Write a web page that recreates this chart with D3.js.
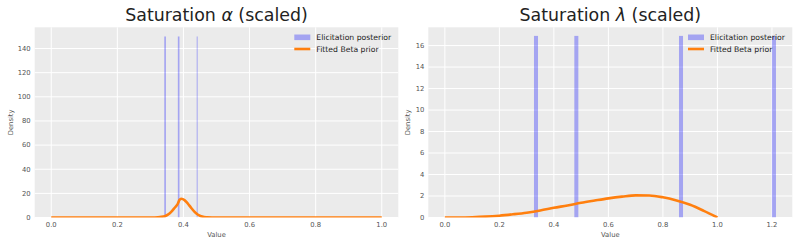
<!DOCTYPE html>
<html>
<head>
<meta charset="utf-8">
<script src="https://cdn.jsdelivr.net/npm/d3@7"></script>
<style>
  body { margin: 0; background: #fff; }
  text { font-family: "DejaVu Sans", sans-serif; }
</style>
</head>
<body>
<svg id="chart" width="800" height="246"></svg>
<script>
// saturation alpha panel
const alphaBarX = [0.342, 0.383, 0.440];
const alphaBarW = [0.005, 0.005, 0.003];
const alphaBarH = [150, 150, 150];
const alphaCurveX = [0, 0.1, 0.2, 0.3, 0.313, 0.323, 0.333, 0.343, 0.353, 0.363, 0.373, 0.383, 0.388, 0.393, 0.398, 0.403, 0.413, 0.423, 0.433, 0.443, 0.453, 0.463, 0.473, 0.5, 0.6, 0.8, 1.0];
const alphaCurveY = [0, 0, 0, 0, 0.05, 0.2, 0.5, 1.1, 2.4, 4.7, 7.9, 11.4, 14.6, 15.5, 15.2, 14.4, 11.6, 8.1, 4.9, 2.5, 1.1, 0.45, 0.15, 0, 0, 0, 0];
const alphaXTicks = [0, 0.2, 0.4, 0.6, 0.8, 1.0];
const alphaYTicks = [0, 20, 40, 60, 80, 100, 120, 140];

// saturation lambda panel
const lambdaBarX = [0.327, 0.475, 0.859, 1.200];
const lambdaBarW = [0.0148, 0.0148, 0.0148, 0.0148];
const lambdaBarH = [16.9, 16.9, 16.9, 16.9];
const lambdaCurveX = [0, 0.05, 0.1, 0.15, 0.2, 0.25, 0.3, 0.35, 0.4, 0.45, 0.5, 0.55, 0.6, 0.65, 0.7, 0.75, 0.8, 0.85, 0.9, 0.95, 1.0];
const lambdaCurveY = [0, 0.005, 0.03, 0.08, 0.17, 0.3, 0.45, 0.65, 0.9, 1.12, 1.37, 1.58, 1.78, 1.94, 2.06, 2.05, 1.88, 1.58, 1.18, 0.62, 0];
const lambdaXTicks = [0, 0.2, 0.4, 0.6, 0.8, 1.0, 1.2];
const lambdaYTicks = [0, 2, 4, 6, 8, 10, 12, 14, 16];

const legendLabels = ["Elicitation posterior", "Fitted Beta prior"];

const svg = d3.select("#chart");

function drawPanel(opt){
    const g = svg.append("g");
    const x = d3.scaleLinear().domain(opt.xdom).range([opt.left, opt.right]);
    const y = d3.scaleLinear().domain(opt.ydom).range([opt.bottom, opt.top]);

    // background
    g.append("rect")
        .attr("x", opt.left).attr("y", opt.top)
        .attr("width", opt.right - opt.left)
        .attr("height", opt.bottom - opt.top)
        .attr("fill", "#ebebeb");

    // grid
    g.selectAll(".gx").data(opt.xticks).enter().append("line")
        .attr("x1", d => x(d)).attr("x2", d => x(d))
        .attr("y1", opt.top).attr("y2", opt.bottom)
        .attr("stroke", "#fff").attr("stroke-width", 1);
    g.selectAll(".gy").data(opt.yticks).enter().append("line")
        .attr("x1", opt.left).attr("x2", opt.right)
        .attr("y1", d => y(d)).attr("y2", d => y(d))
        .attr("stroke", "#fff").attr("stroke-width", 1);

    const clipId = "clip" + opt.id;
    g.append("clipPath").attr("id", clipId).append("rect")
        .attr("x", opt.left).attr("y", opt.top)
        .attr("width", opt.right - opt.left)
        .attr("height", opt.bottom - opt.top);
    const plot = g.append("g").attr("clip-path", "url(#" + clipId + ")");

    // histogram bars
    plot.selectAll(".bar").data(opt.barX).enter().append("rect")
        .attr("x", d => x(d))
        .attr("width", (d, i) => x(d + opt.barW[i]) - x(d))
        .attr("y", (d, i) => y(opt.barH[i]))
        .attr("height", (d, i) => y(0) - y(opt.barH[i]))
        .attr("fill", "blue").attr("fill-opacity", 0.3);

    // fitted prior
    const pts = opt.cx.map((v, i) => [v, opt.cy[i]]);
    plot.append("path")
        .attr("d", d3.line().x(d => x(d[0])).y(d => y(d[1])).curve(d3.curveMonotoneX)(pts))
        .attr("fill", "none").attr("stroke", "#ff7f0e").attr("stroke-width", 2.6);

    // tick labels
    g.selectAll(".tx").data(opt.xticks).enter().append("text")
        .attr("x", d => x(d)).attr("y", opt.bottom + 9)
        .attr("text-anchor", "middle").attr("font-size", "6.8px").attr("fill", "#555")
        .text(d => d3.format(".1f")(d));
    g.selectAll(".ty").data(opt.yticks).enter().append("text")
        .attr("x", opt.left - 4).attr("y", d => y(d) + 2.4)
        .attr("text-anchor", "end").attr("font-size", "6.8px").attr("fill", "#555")
        .text(d => d);

    // axis labels
    g.append("text")
        .attr("x", (opt.left + opt.right) / 2).attr("y", opt.bottom + 19)
        .attr("text-anchor", "middle").attr("font-size", "6.8px").attr("fill", "#555")
        .text("Value");
    g.append("text")
        .attr("transform", "translate(" + opt.ylabelX + "," + (opt.top + opt.bottom) / 2 + ") rotate(-90)")
        .attr("text-anchor", "middle").attr("font-size", "6.8px").attr("fill", "#555")
        .text("Density");

    // title
    const t = g.append("text")
        .attr("x", (opt.left + opt.right) / 2).attr("y", 21)
        .attr("text-anchor", "middle").attr("font-size", "17.4px").attr("fill", "#222");
    t.append("tspan").text("Saturation ");
    t.append("tspan").attr("font-style", "italic").text(opt.greek);
    t.append("tspan").text(" (scaled)");

    // legend
    const lx = opt.legendX;
    g.append("rect").attr("x", lx).attr("y", 34.5).attr("width", 16).attr("height", 5.6)
        .attr("fill", "blue").attr("fill-opacity", 0.3);
    g.append("line").attr("x1", lx).attr("x2", lx + 16).attr("y1", 49).attr("y2", 49)
        .attr("stroke", "#ff7f0e").attr("stroke-width", 2.6);
    g.selectAll(".lt").data(legendLabels).enter().append("text")
        .attr("x", lx + 22).attr("y", (d, i) => 40.3 + i * 11.3)
        .attr("font-size", "7.7px").attr("fill", "#222")
        .text(d => d);
}

drawPanel({
    id: "a", left: 34.7, right: 398.3, top: 27.3, bottom: 217.5,
    xdom: [-0.05, 1.05], ydom: [0, 157.6],
    xticks: alphaXTicks, yticks: alphaYTicks,
    barX: alphaBarX, barW: alphaBarW, barH: alphaBarH,
    cx: alphaCurveX, cy: alphaCurveY,
    greek: "\u03b1", ylabelX: 13, legendX: 294.3
});

drawPanel({
    id: "l", left: 428.3, right: 792.3, top: 27.3, bottom: 217.5,
    xdom: [-0.0607, 1.2747], ydom: [0, 17.7],
    xticks: lambdaXTicks, yticks: lambdaYTicks,
    barX: lambdaBarX, barW: lambdaBarW, barH: lambdaBarH,
    cx: lambdaCurveX, cy: lambdaCurveY,
    greek: "\u03bb", ylabelX: 410, legendX: 688
});
</script>
</body>
</html>
